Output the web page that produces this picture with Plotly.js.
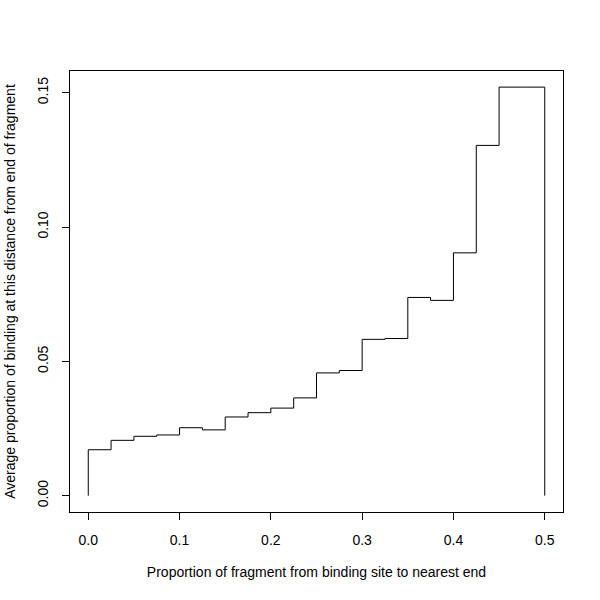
<!DOCTYPE html>
<html>
<head>
<meta charset="utf-8">
<script src="https://cdn.plot.ly/plotly-3.0.1.min.js"></script>
<style>body{margin:0;background:#fff}</style>
</head>
<body>
<div id="plot" style="width:600px;height:600px"></div>
<script>
// left edges of the bins and their averages
var binStart = [0, 0.025, 0.05, 0.075, 0.1, 0.125, 0.15, 0.175, 0.2, 0.225,
                0.25, 0.275, 0.3, 0.325, 0.35, 0.375, 0.4, 0.425, 0.45, 0.475];
var binEnd = 0.5;
var avgBinding = [0.0171, 0.0206, 0.0221, 0.0226, 0.0253, 0.0245, 0.0293, 0.0309, 0.0326, 0.0364,
                  0.0457, 0.0466, 0.0582, 0.0585, 0.0738, 0.0727, 0.0904, 0.1304, 0.1521, 0.1521];
var xTicks = [0, 0.1, 0.2, 0.3, 0.4, 0.5];
var xTickText = ['0.0', '0.1', '0.2', '0.3', '0.4', '0.5'];
var yTicks = [0, 0.05, 0.1, 0.15];
var yTickText = ['0.00', '0.05', '0.10', '0.15'];

// step outline: up from zero at the first edge, down to zero at the last
var xs = [binStart[0]].concat(binStart, [binEnd]);
var ys = [0].concat(avgBinding, [0]);

var data = [{
    type: 'scatter',
    mode: 'lines',
    x: xs,
    y: ys,
    line: {shape: 'hv', color: '#000', width: 1},
    hoverinfo: 'x+y',
    showlegend: false
}];

var font = {family: 'Liberation Sans, Arial, sans-serif', size: 14, color: '#000'};

var layout = {
    width: 600, height: 600,
    margin: {l: 70, r: 37, t: 71, b: 88},
    paper_bgcolor: '#fff', plot_bgcolor: '#fff',
    font: font,
    xaxis: {
        range: [-0.02, 0.52],
        tickvals: xTicks, ticktext: xTickText,
        ticks: 'outside', ticklen: 7, tickwidth: 1, tickcolor: '#000',
        ticklabelstandoff: 8,
        showline: true, linecolor: '#000', linewidth: 1, mirror: true,
        showgrid: false, zeroline: false,
        title: {text: 'Proportion of fragment from binding site to nearest end', font: font, standoff: 20}
    },
    yaxis: {
        range: [-0.00608, 0.1581],
        tickvals: yTicks, ticktext: yTickText, tickangle: -90,
        ticks: 'outside', ticklen: 7, tickwidth: 1, tickcolor: '#000',
        ticklabelstandoff: 8,
        showline: true, linecolor: '#000', linewidth: 1, mirror: true,
        showgrid: false, zeroline: false,
        title: {text: 'Average proportion of binding at this distance from end of fragment', font: font, standoff: 16}
    }
};

Plotly.newPlot('plot', data, layout, {displayModeBar: false});
</script>
</body>
</html>
